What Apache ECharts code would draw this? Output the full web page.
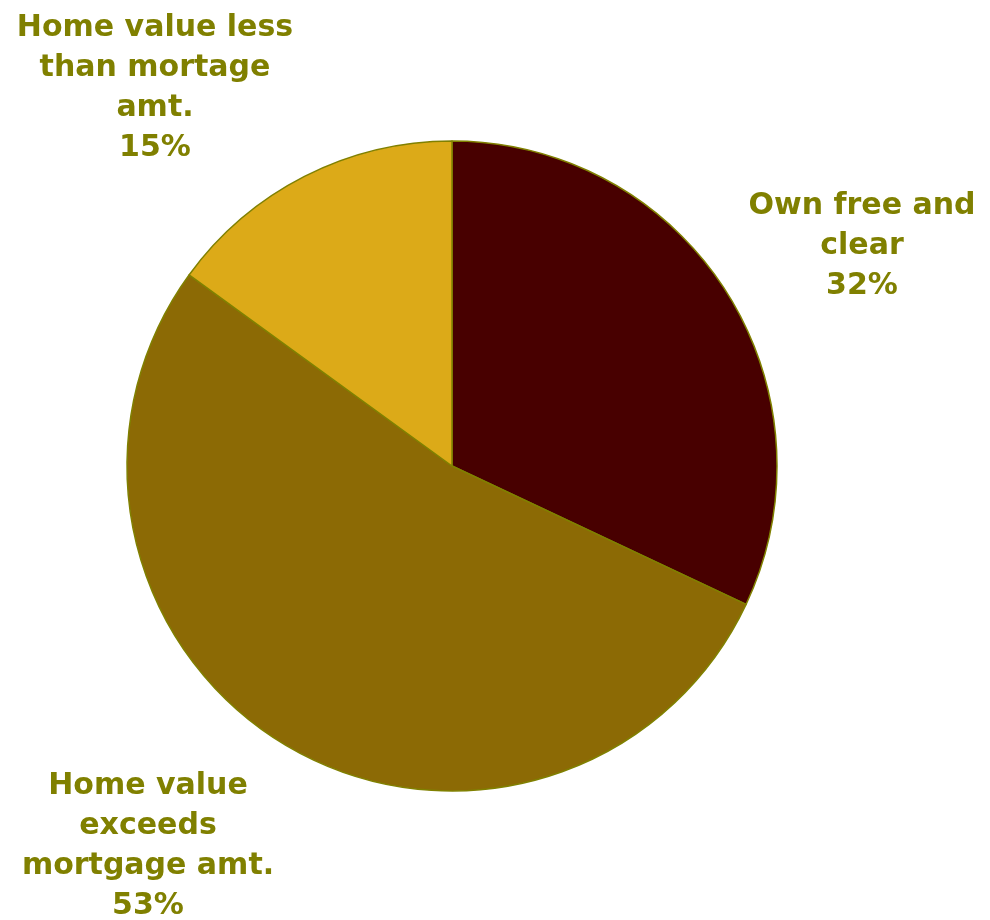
<!DOCTYPE html>
<html>
<head>
<meta charset="utf-8">
<script src="https://cdn.jsdelivr.net/npm/echarts@6/dist/echarts.min.js"></script>
<style>
  html, body { margin: 0; padding: 0; background: #fff; }
  #chart { width: 990px; height: 920px; }
</style>
</head>
<body>
<div id="chart"></div>
<script>
// Home ownership breakdown (share of owners, %)
const categories = [
  'Own free and\nclear',
  'Home value\nexceeds\nmortgage amt.',
  'Home value less\nthan mortage\namt.'
];
const shares = [32, 53, 15];
const sliceColors = ['#480000', '#8c6a05', '#dcaa18'];

// label anchor points (centre of each text block)
const labelAnchors = [[862, 246], [148, 846], [155, 88]];

const chart = echarts.init(document.getElementById('chart'));
chart.setOption({
  animation: false,
  series: [{
    type: 'pie',
    center: [452, 466],
    radius: [0, 325],
    startAngle: 90,
    clockwise: true,
    data: categories.map((name, i) => ({
      name: name,
      value: shares[i],
      itemStyle: { color: sliceColors[i] }
    })),
    itemStyle: { borderColor: '#808000', borderWidth: 1.5 },
    label: {
      show: true,
      position: 'outside',
      formatter: '{b}\n{c}%',
      fontFamily: 'DejaVu Sans',
      fontWeight: 'bold',
      fontSize: 30,
      lineHeight: 40,
      color: '#808000',
      align: 'center',
      overflow: 'none'
    },
    labelLine: { show: false },
    labelLayout: function (params) {
      const p = labelAnchors[params.dataIndex];
      return { x: p[0], y: p[1], align: 'center', verticalAlign: 'middle' };
    },
    emphasis: { disabled: true }
  }]
});
</script>
</body>
</html>
